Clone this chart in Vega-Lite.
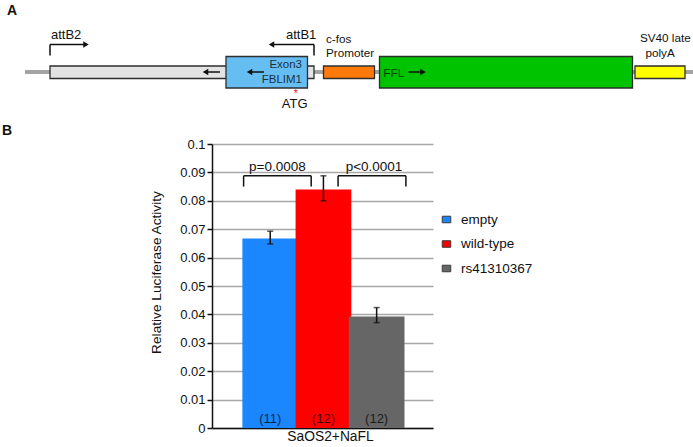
{
  "$schema": "https://vega.github.io/schema/vega-lite/v6.json",
  "width": 693,
  "height": 447,
  "autosize": "none",
  "padding": 0,
  "background": "white",
  "config": {"view": {"stroke": null}, "font": "Liberation Sans", "text": {"font": "Liberation Sans"}},
  "datasets": {
    "backbone": [{"part": "vector backbone", "start": 25, "end": 693}],
    "features": [
      {"feature": "attB cassette", "kind": "element", "start": 50, "end": 314},
      {"feature": "c-fos Promoter", "kind": "element", "start": 323.5, "end": 374.5},
      {"feature": "SV40 late polyA", "kind": "element", "start": 635, "end": 685},
      {"feature": "Exon3 FBLIM1", "kind": "gene", "start": 226, "end": 307.5},
      {"feature": "FFL", "kind": "gene", "start": 379.5, "end": 632.5}
    ],
    "arrows": [
      {"arrow": "attB cassette", "from": 220, "to": 205.5, "y": 72, "dir": "left"},
      {"arrow": "Exon3", "from": 264, "to": 249.5, "y": 72, "dir": "left"},
      {"arrow": "FFL", "from": 408.5, "to": 423, "y": 72, "dir": "right"},
      {"arrow": "attB2", "from": 50, "to": 86, "y": 44.5, "dir": "right"},
      {"arrow": "attB1", "from": 314, "to": 271.5, "y": 44.5, "dir": "left"}
    ],
    "legs": [
      {"site": "attB2", "x": 50, "top": 44.5, "bottom": 55.5},
      {"site": "attB1", "x": 314, "top": 44.5, "bottom": 55.5}
    ],
    "labels": [
      {"role": "site", "text": "attB2", "x": 51, "y": 39},
      {"role": "site", "text": "attB1", "x": 286, "y": 38.5},
      {"role": "element", "text": "c-fos", "x": 326, "y": 42.5},
      {"role": "element", "text": "Promoter", "x": 326, "y": 57.3},
      {"role": "element", "text": "SV40 late", "x": 640, "y": 42.3},
      {"role": "element", "text": "polyA", "x": 645.5, "y": 57.3},
      {"role": "exon", "text": "Exon3", "x": 302, "y": 68.3},
      {"role": "exon", "text": "FBLIM1", "x": 302, "y": 82.8},
      {"role": "orf", "text": "FFL", "x": 383.3, "y": 77.2},
      {"role": "codon", "text": "ATG", "x": 294.7, "y": 107.8},
      {"role": "mark", "text": "*", "x": 295.7, "y": 97.3},
      {"role": "panel", "text": "A", "x": 7, "y": 15},
      {"role": "panel", "text": "B", "x": 2, "y": 135}
    ],
    "luciferase": [
      {"construct": "empty", "slot": 0.5, "mean": 0.0667, "lo": 0.0648, "hi": 0.0693, "nLabel": "(11)"},
      {"construct": "wild-type", "slot": 1.5, "mean": 0.084, "lo": 0.08, "hi": 0.0888, "nLabel": "(12)"},
      {"construct": "rs41310367", "slot": 2.5, "mean": 0.0393, "lo": 0.0371, "hi": 0.0424, "nLabel": "(12)"}
    ],
    "brackets": [
      {"comparison": "empty vs wild-type", "p": "p=0.0008", "from": 0, "to": 1.27, "at": 0.635, "top": 0.0888, "foot": 0.085, "labelY": 0.0905},
      {"comparison": "wild-type vs rs41310367", "p": "p<0.0001", "from": 1.775, "to": 3.05, "at": 2.45, "top": 0.0888, "foot": 0.085, "labelY": 0.0905}
    ]
  },
  "layer": [
    {
      "layer": [
        {
          "data": {"name": "backbone"},
          "mark": {"type": "rule", "color": "#a3a3a3", "strokeWidth": 4},
          "encoding": {
            "x": {"field": "start", "type": "quantitative", "scale": {"domain": [0, 693], "nice": false, "zero": false}, "axis": null},
            "x2": {"field": "end"},
            "y": {"datum": 72, "type": "quantitative", "scale": {"domain": [0, 447], "nice": false, "zero": false, "reverse": true}, "axis": null}
          }
        },
        {
          "data": {"name": "features"},
          "transform": [{"filter": "datum.kind === 'element'"}],
          "mark": {"type": "rect", "stroke": "#2e2e2e", "strokeWidth": 1.3},
          "encoding": {
            "x": {"field": "start", "type": "quantitative", "scale": {"domain": [0, 693], "nice": false, "zero": false}, "axis": null},
            "x2": {"field": "end"},
            "y": {"datum": 66, "type": "quantitative", "scale": {"domain": [0, 447], "nice": false, "zero": false, "reverse": true}, "axis": null},
            "y2": {"datum": 78.5},
            "color": {"field": "feature", "type": "nominal", "legend": null,
              "scale": {"domain": ["attB cassette", "Exon3 FBLIM1", "c-fos Promoter", "FFL", "SV40 late polyA"], "range": ["#e3e3e3", "#66bdf2", "#ff7a0a", "#00c300", "#ffff00"]}}
          }
        },
        {
          "data": {"name": "features"},
          "transform": [{"filter": "datum.kind === 'gene'"}],
          "mark": {"type": "rect", "stroke": "#2e2e2e", "strokeWidth": 1.3},
          "encoding": {
            "x": {"field": "start", "type": "quantitative", "scale": {"domain": [0, 693], "nice": false, "zero": false}, "axis": null},
            "x2": {"field": "end"},
            "y": {"datum": 56.5, "type": "quantitative", "scale": {"domain": [0, 447], "nice": false, "zero": false, "reverse": true}, "axis": null},
            "y2": {"datum": 88},
            "color": {"field": "feature", "type": "nominal", "legend": null,
              "scale": {"domain": ["attB cassette", "Exon3 FBLIM1", "c-fos Promoter", "FFL", "SV40 late polyA"], "range": ["#e3e3e3", "#66bdf2", "#ff7a0a", "#00c300", "#ffff00"]}}
          }
        },
        {
          "data": {"name": "legs"},
          "mark": {"type": "rule", "color": "#111", "strokeWidth": 1.5},
          "encoding": {
            "x": {"field": "x", "type": "quantitative", "scale": {"domain": [0, 693], "nice": false, "zero": false}, "axis": null},
            "y": {"field": "top", "type": "quantitative", "scale": {"domain": [0, 447], "nice": false, "zero": false, "reverse": true}, "axis": null},
            "y2": {"field": "bottom"}
          }
        },
        {
          "data": {"name": "arrows"},
          "mark": {"type": "rule", "color": "#111", "strokeWidth": 1.5},
          "encoding": {
            "x": {"field": "from", "type": "quantitative", "scale": {"domain": [0, 693], "nice": false, "zero": false}, "axis": null},
            "x2": {"field": "to"},
            "y": {"field": "y", "type": "quantitative", "scale": {"domain": [0, 447], "nice": false, "zero": false, "reverse": true}, "axis": null}
          }
        },
        {
          "data": {"name": "arrows"},
          "mark": {"type": "point", "filled": true, "color": "#111", "opacity": 1, "size": 40},
          "encoding": {
            "x": {"field": "to", "type": "quantitative", "scale": {"domain": [0, 693], "nice": false, "zero": false}, "axis": null},
            "y": {"field": "y", "type": "quantitative", "scale": {"domain": [0, 447], "nice": false, "zero": false, "reverse": true}, "axis": null},
            "shape": {"field": "dir", "type": "nominal", "legend": null, "scale": {"domain": ["left", "right"], "range": ["triangle-left", "triangle-right"]}}
          }
        },
        {
          "data": {"name": "labels"},
          "transform": [{"filter": "datum.role === 'site'"}],
          "mark": {"type": "text", "align": "left", "baseline": "alphabetic", "fontSize": 13, "color": "#111"},
          "encoding": {
            "x": {"field": "x", "type": "quantitative", "scale": {"domain": [0, 693], "nice": false, "zero": false}, "axis": null},
            "y": {"field": "y", "type": "quantitative", "scale": {"domain": [0, 447], "nice": false, "zero": false, "reverse": true}, "axis": null},
            "text": {"field": "text"}
          }
        },
        {
          "data": {"name": "labels"},
          "transform": [{"filter": "datum.role === 'element'"}],
          "mark": {"type": "text", "align": "left", "baseline": "alphabetic", "fontSize": 11.7, "color": "#111"},
          "encoding": {
            "x": {"field": "x", "type": "quantitative", "scale": {"domain": [0, 693], "nice": false, "zero": false}, "axis": null},
            "y": {"field": "y", "type": "quantitative", "scale": {"domain": [0, 447], "nice": false, "zero": false, "reverse": true}, "axis": null},
            "text": {"field": "text"}
          }
        },
        {
          "data": {"name": "labels"},
          "transform": [{"filter": "datum.role === 'exon'"}],
          "mark": {"type": "text", "align": "right", "baseline": "alphabetic", "fontSize": 11.5, "color": "#000", "opacity": 0.75},
          "encoding": {
            "x": {"field": "x", "type": "quantitative", "scale": {"domain": [0, 693], "nice": false, "zero": false}, "axis": null},
            "y": {"field": "y", "type": "quantitative", "scale": {"domain": [0, 447], "nice": false, "zero": false, "reverse": true}, "axis": null},
            "text": {"field": "text"}
          }
        },
        {
          "data": {"name": "labels"},
          "transform": [{"filter": "datum.role === 'orf'"}],
          "mark": {"type": "text", "align": "left", "baseline": "alphabetic", "fontSize": 11.8, "color": "#000", "opacity": 0.65},
          "encoding": {
            "x": {"field": "x", "type": "quantitative", "scale": {"domain": [0, 693], "nice": false, "zero": false}, "axis": null},
            "y": {"field": "y", "type": "quantitative", "scale": {"domain": [0, 447], "nice": false, "zero": false, "reverse": true}, "axis": null},
            "text": {"field": "text"}
          }
        },
        {
          "data": {"name": "labels"},
          "transform": [{"filter": "datum.role === 'codon'"}],
          "mark": {"type": "text", "align": "center", "baseline": "alphabetic", "fontSize": 13, "color": "#111"},
          "encoding": {
            "x": {"field": "x", "type": "quantitative", "scale": {"domain": [0, 693], "nice": false, "zero": false}, "axis": null},
            "y": {"field": "y", "type": "quantitative", "scale": {"domain": [0, 447], "nice": false, "zero": false, "reverse": true}, "axis": null},
            "text": {"field": "text"}
          }
        },
        {
          "data": {"name": "labels"},
          "transform": [{"filter": "datum.role === 'mark'"}],
          "mark": {"type": "text", "align": "center", "baseline": "alphabetic", "fontSize": 10.5, "color": "#e8141a"},
          "encoding": {
            "x": {"field": "x", "type": "quantitative", "scale": {"domain": [0, 693], "nice": false, "zero": false}, "axis": null},
            "y": {"field": "y", "type": "quantitative", "scale": {"domain": [0, 447], "nice": false, "zero": false, "reverse": true}, "axis": null},
            "text": {"field": "text"}
          }
        },
        {
          "data": {"name": "labels"},
          "transform": [{"filter": "datum.role === 'panel'"}],
          "mark": {"type": "text", "align": "left", "baseline": "alphabetic", "fontSize": 14, "fontWeight": "bold", "color": "#111"},
          "encoding": {
            "x": {"field": "x", "type": "quantitative", "scale": {"domain": [0, 693], "nice": false, "zero": false}, "axis": null},
            "y": {"field": "y", "type": "quantitative", "scale": {"domain": [0, 447], "nice": false, "zero": false, "reverse": true}, "axis": null},
            "text": {"field": "text"}
          }
        }
      ]
    },
    {
      "layer": [
        {
          "data": {"name": "luciferase"},
          "mark": {"type": "bar", "width": 55.7},
          "encoding": {
            "x": {"field": "slot", "type": "quantitative", "title": "SaOS2+NaFL",
              "scale": {"domain": [-0.5, 3.465], "range": [212, 433], "nice": false, "zero": false},
              "axis": {"orient": "bottom", "offset": -19, "labels": false, "ticks": false, "grid": false,
                "domainColor": "#111", "domainWidth": 1.5,
                "title": "SaOS2+NaFL", "titleFont": "Liberation Sans", "titleFontSize": 13.8, "titleFontWeight": "normal", "titleColor": "#111",
                "titleX": 330, "titleY": 12, "titleBaseline": "alphabetic", "titleAlign": "center"}},
            "y": {"field": "mean", "type": "quantitative", "title": "Relative Luciferase Activity",
              "scale": {"domain": [0, 0.1], "range": [428, 144], "nice": false, "zero": false},
              "axis": {"orient": "left", "offset": -212, "tickCount": 10, "labelExpr": "format(datum.value, '.2~f')",
                "grid": true, "gridColor": "#a8a8a8", "gridWidth": 1.5,
                "domainColor": "#111", "domainWidth": 1.5, "tickColor": "#111", "tickWidth": 1.5, "tickSize": 5,
                "labelFont": "Liberation Sans", "labelFontSize": 13, "labelColor": "#111", "labelPadding": 2,
                "title": "Relative Luciferase Activity", "titleFont": "Liberation Sans", "titleFontSize": 13.7, "titleFontWeight": "normal", "titleColor": "#111",
                "titleX": -52, "titleY": 272, "titleBaseline": "alphabetic", "titleAlign": "center", "titleAngle": 270}},
            "color": {"field": "construct", "type": "nominal",
              "scale": {"domain": ["empty", "wild-type", "rs41310367"], "range": ["#1a86ff", "#ff0000", "#666666"]},
              "legend": {"orient": "none", "legendX": 439, "legendY": 212, "title": null, "padding": 0,
                "symbolType": "M-0.65,-0.5H0.65V0.5H-0.65Z", "symbolSize": 171, "symbolStrokeColor": "#3a3a3a", "symbolStrokeWidth": 1,
                "labelFont": "Liberation Sans", "labelFontSize": 13.5, "labelColor": "#111", "labelOffset": 7, "rowPadding": 10.5,
                "labelExpr": "datum.label === 'wild-type' ? '\u00a0wild-type' : datum.label"}}
          }
        },
        {
          "data": {"name": "luciferase"},
          "mark": {"type": "errorbar", "orient": "vertical", "ticks": {"size": 6}, "color": "#111", "thickness": 1.5},
          "encoding": {
            "x": {"field": "slot", "type": "quantitative", "title": "SaOS2+NaFL"},
            "y": {"field": "lo", "type": "quantitative", "title": "Relative Luciferase Activity"},
            "y2": {"field": "hi"}
          }
        },
        {
          "data": {"name": "luciferase"},
          "mark": {"type": "text", "fontSize": 13, "baseline": "alphabetic", "align": "center", "color": "#000", "opacity": 0.72},
          "encoding": {
            "x": {"field": "slot", "type": "quantitative", "title": "SaOS2+NaFL"},
            "y": {"datum": 0.0016, "type": "quantitative", "title": "Relative Luciferase Activity"},
            "text": {"field": "nLabel"}
          }
        },
        {
          "data": {"name": "brackets"},
          "mark": {"type": "rule", "color": "#111", "strokeWidth": 1.5},
          "encoding": {
            "x": {"field": "from", "type": "quantitative", "title": "SaOS2+NaFL"},
            "y": {"field": "foot", "type": "quantitative", "title": "Relative Luciferase Activity"},
            "y2": {"field": "top"}
          }
        },
        {
          "data": {"name": "brackets"},
          "mark": {"type": "rule", "color": "#111", "strokeWidth": 1.5},
          "encoding": {
            "x": {"field": "to", "type": "quantitative", "title": "SaOS2+NaFL"},
            "y": {"field": "foot", "type": "quantitative", "title": "Relative Luciferase Activity"},
            "y2": {"field": "top"}
          }
        },
        {
          "data": {"name": "brackets"},
          "mark": {"type": "rule", "color": "#111", "strokeWidth": 1.5},
          "encoding": {
            "x": {"field": "from", "type": "quantitative", "title": "SaOS2+NaFL"},
            "x2": {"field": "to"},
            "y": {"field": "top", "type": "quantitative", "title": "Relative Luciferase Activity"}
          }
        },
        {
          "data": {"name": "brackets"},
          "mark": {"type": "text", "fontSize": 13.5, "baseline": "alphabetic", "align": "center", "color": "#111"},
          "encoding": {
            "x": {"field": "at", "type": "quantitative", "title": "SaOS2+NaFL"},
            "y": {"field": "labelY", "type": "quantitative", "title": "Relative Luciferase Activity"},
            "text": {"field": "p"}
          }
        }
      ]
    }
  ],
  "resolve": {"scale": {"x": "independent", "y": "independent", "color": "independent"}}
}
